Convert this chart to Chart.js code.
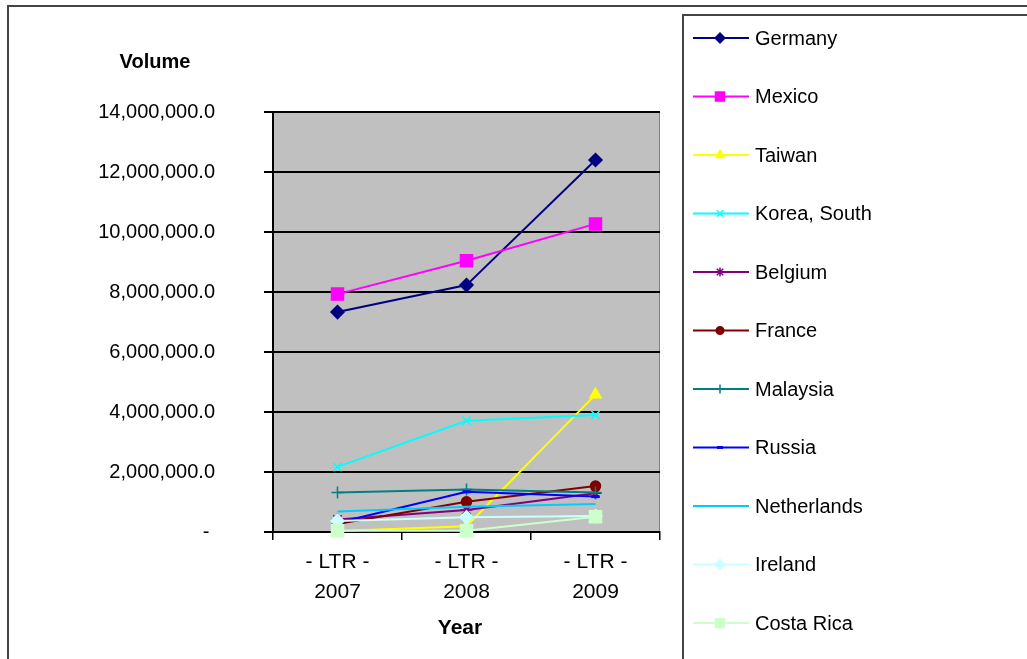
<!DOCTYPE html>
<html>
<head>
<meta charset="utf-8">
<script src="https://cdn.jsdelivr.net/npm/chart.js"></script>
<style>
  html, body { margin: 0; padding: 0; background: #fff; }
  canvas { display: block; }
</style>
</head>
<body>
<canvas id="myChart" width="1027" height="659"></canvas>
<script>
// chart data
const years = ["2007", "2008", "2009"];
const yearPrefix = "- LTR -";
const countries = ["Germany", "Mexico", "Taiwan", "Korea, South", "Belgium", "France",
    "Malaysia", "Russia", "Netherlands", "Ireland", "Costa Rica"];

const germany = [7330000, 8230000, 12400000];
const mexico = [7930000, 9040000, 10270000];
const taiwan = [30000, 190000, 4580000];
const korea = [2170000, 3710000, 3900000];
const belgium = [420000, 730000, 1290000];
const france = [270000, 1010000, 1530000];
const malaysia = [1320000, 1420000, 1320000];
const russia = [310000, 1340000, 1180000];
const netherlands = [680000, 840000, 930000];
const ireland = [370000, 490000, 530000];
const costaRica = [40000, 40000, 510000];

const yMax = 14000000;
const yStep = 2000000;

const seriesValues = [germany, mexico, taiwan, korea, belgium, france,
    malaysia, russia, netherlands, ireland, costaRica];

// Excel-ish colours and marker styles
const colors = ["#000080", "#FF00FF", "#FFFF00", "#00FFFF", "#800080", "#800000",
    "#008080", "#0000FF", "#00CCFF", "#CCFFFF", "#CCFFCC"];
const markers = ["rectRot", "rect", "triangle", "crossRot", "star", "circle",
    "cross", "line", false, "rectRot", "rect"];
const markerSize = [6.5, 8.5, 6.5, 6, 6, 5, 6, 4, 0, 6.5, 8.5];

const datasets = countries.map((name, i) => ({
    label: name,
    data: seriesValues[i],
    borderColor: colors[i],
    backgroundColor: colors[i],
    borderWidth: 2,
    pointStyle: markers[i],
    pointRadius: markerSize[i],
    pointBorderWidth: markers[i] === "line" ? 3 : 1.5,
    pointBackgroundColor: colors[i],
    pointBorderColor: colors[i],
    tension: 0,
    clip: false,
    order: countries.length - i,
}));

const frame = {
    id: "frame",
    beforeDraw(chart) {
        const { ctx, chartArea: a } = chart;
        ctx.save();
        ctx.fillStyle = "#fff";
        ctx.fillRect(0, 0, chart.width, chart.height);
        ctx.fillStyle = "#C0C0C0";
        ctx.fillRect(a.left, a.top, a.right - a.left, a.bottom - a.top);
        ctx.strokeStyle = "#808080";
        ctx.lineWidth = 1;
        ctx.strokeRect(a.left + 0.5, a.top + 0.5, a.right - a.left - 1, a.bottom - a.top);
        // outer chart frame
        ctx.strokeStyle = "#444";
        ctx.lineWidth = 2;
        ctx.strokeRect(8, 6, 1100, 800);
        ctx.restore();
    },
    afterDraw(chart) {
        const ctx = chart.ctx;
        ctx.save();
        ctx.fillStyle = "#000";
        ctx.textAlign = "center";
        ctx.textBaseline = "middle";
        ctx.font = "bold 20px 'Liberation Sans', Arial, sans-serif";
        ctx.fillText("Volume", 155, 62);
        ctx.font = "bold 21px 'Liberation Sans', Arial, sans-serif";
        ctx.fillText("Year", 460, 628);

        // legend box
        ctx.strokeStyle = "#444";
        ctx.lineWidth = 2;
        ctx.strokeRect(683, 15, 500, 800);
        ctx.font = "20px 'Liberation Sans', Arial, sans-serif";
        ctx.textAlign = "left";
        chart.data.datasets.forEach((ds, i) => {
            const y = 38 + i * 58.5;
            ctx.strokeStyle = ds.borderColor;
            ctx.lineWidth = 2;
            ctx.beginPath();
            ctx.moveTo(693, y);
            ctx.lineTo(749, y);
            ctx.stroke();
            if (ds.pointStyle) {
                ctx.fillStyle = ds.borderColor;
                ctx.lineWidth = ds.pointBorderWidth;
                Chart.helpers.drawPoint(ctx, {
                    pointStyle: ds.pointStyle,
                    radius: ds.pointRadius * 0.75,
                    rotation: 0,
                    borderWidth: ds.pointBorderWidth,
                }, 720, y);
            }
            ctx.fillStyle = "#000";
            ctx.fillText(ds.label, 755, y + 1);
        });
        ctx.restore();
    },
};

const ctx = document.getElementById("myChart").getContext("2d");
const myChart = new Chart(ctx, {
    type: "line",
    data: {
        labels: years.map((y) => [yearPrefix, y]),
        datasets: datasets,
    },
    plugins: [frame],
    options: {
        responsive: false,
        animation: false,
        layout: { padding: { left: 0, top: 112, right: 367, bottom: 0 } },
        plugins: {
            legend: { display: false },
            tooltip: { enabled: false },
        },
        scales: {
            x: {
                offset: true,
                afterFit: (scale) => { scale.height = 127; },
                grid: {
                    offset: true,
                    drawOnChartArea: false,
                    drawTicks: true,
                    tickLength: 8,
                    color: "#000",
                    lineWidth: 1.5,
                },
                border: { display: true, color: "#000", width: 2 },
                ticks: {
                    color: "#000",
                    padding: 8,
                    maxRotation: 0,
                    font: { family: "'Liberation Sans', Arial, sans-serif", size: 21, lineHeight: 1.4 },
                },
            },
            y: {
                min: 0,
                max: yMax,
                afterFit: (scale) => { scale.width = 273; },
                grid: {
                    color: "#000",
                    lineWidth: 2,
                    drawTicks: true,
                    tickLength: 9,
                },
                border: { display: true, color: "#000", width: 2 },
                ticks: {
                    stepSize: yStep,
                    color: "#000",
                    padding: 49,
                    font: { family: "'Liberation Sans', Arial, sans-serif", size: 20 },
                    callback: (v) => v === 0 ? "- " :
                        v.toLocaleString("en-US", { minimumFractionDigits: 1, maximumFractionDigits: 1 }),
                },
            },
        },
    },
});
</script>
</body>
</html>
